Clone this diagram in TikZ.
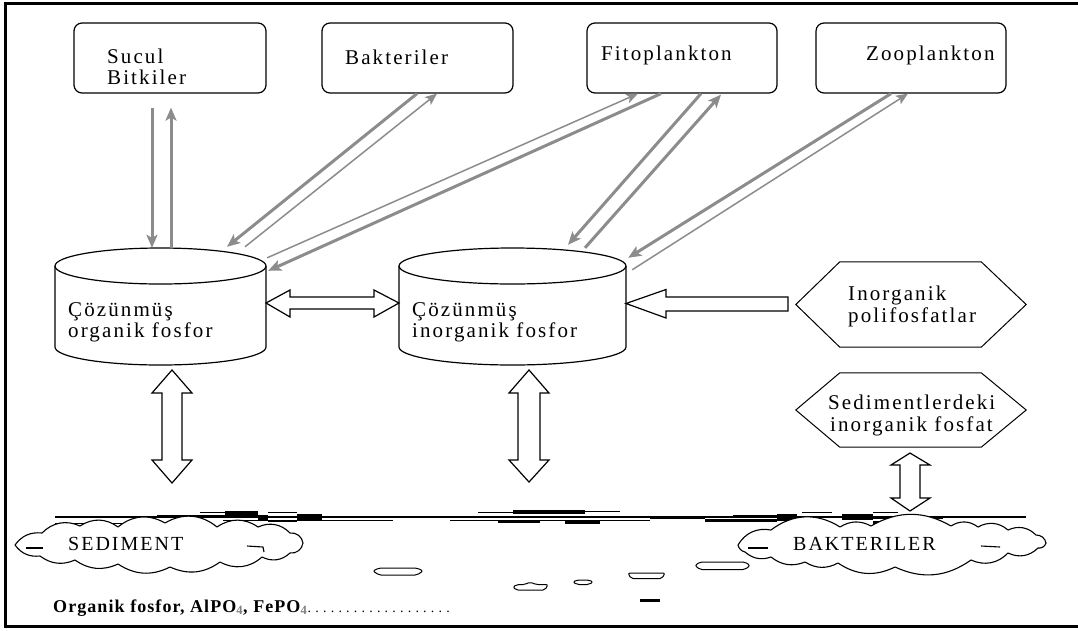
\documentclass[tikz,border=0pt]{standalone}
\usepackage{fontspec}
\setmainfont{Liberation Serif}[LetterSpace=10]
\usetikzlibrary{arrows.meta,calc}
\tikzset{
  lbl/.style={anchor=base west, inner sep=0pt, font=\fontsize{21pt}{21pt}\selectfont},
  box/.style={draw, rounded corners=8pt, line width=1.2pt, inner sep=0pt},
  hidden/.style={inner sep=0pt},
  blk/.style={draw, fill=white, line width=1.2pt, line join=miter},
  garr/.style={draw=gray!90, line width=3pt, -{Stealth[length=13pt,width=11pt,inset=3pt]}},
  tarr/.style={draw=gray!90, line width=1.5pt, -{Stealth[length=12pt,width=10pt,inset=3pt]}},
  cloudline/.style={draw, line width=1.1pt, line join=round},
  blob/.style={draw, line width=1pt, rounded corners=2pt},
}
\begin{document}
\begin{tikzpicture}[x=1pt,y=-1pt]
\useasboundingbox (0,0) rectangle (1078,630);
% frame (top, left, bottom)
\draw[line width=3pt] (1078,3.5) -- (5.5,3.5) -- (5.5,626.5) -- (1078,626.5);

% top boxes
\node[box, minimum width=192pt, minimum height=70pt] (suc) at (170,58) {};
\node[box, minimum width=191pt, minimum height=70pt] (bak) at (417.5,58) {};
\node[box, minimum width=190pt, minimum height=70pt] (fito) at (682,58) {};
\node[box, minimum width=190pt, minimum height=70pt] (zoo) at (911,58) {};
\node[lbl] (tsuc1) at (107,63) {Sucul};
\node[lbl] (tsuc2) at (107,84) {Bitkiler};
\node[lbl] (tbak) at (345,64) {Bakteriler};
\node[lbl] (tfito) at (601,60) {Fitoplankton};
\node[lbl] (tzoo) at (866,60) {Zooplankton};

% cylinders
\node[hidden, minimum width=211pt, minimum height=117pt] (cylA) at (160.5,306.5) {};
\node[hidden, minimum width=227pt, minimum height=117pt] (cylB) at (512.5,306.5) {};
\draw[line width=1.2pt] (55,266) -- (55,347) arc[start angle=180, end angle=0, x radius=105.5, y radius=18] -- (266,266);
\draw[line width=1.2pt] (160.5,266) ellipse[x radius=105.5, y radius=18];
\draw[line width=1.2pt] (399,266) -- (399,347) arc[start angle=180, end angle=0, x radius=113.5, y radius=18] -- (626,266);
\draw[line width=1.2pt] (512.5,266) ellipse[x radius=113.5, y radius=18];
\node[lbl] (tcA1) at (68,316) {Çözünmüş};
\node[lbl] (tcA2) at (68,337) {organik fosfor};
\node[lbl] (tcB1) at (412,316) {Çözünmüş};
\node[lbl] (tcB2) at (412,337) {inorganik fosfor};

% hexagons
\node[hidden, minimum width=230pt, minimum height=85pt] (hexA) at (911,304.5) {};
\node[hidden, minimum width=230pt, minimum height=74pt] (hexB) at (911,410) {};
\draw[line width=1pt] (hexA.west) -- ($(hexA.north west)+(44,0)$) -- ($(hexA.north east)+(-45,0)$) -- (hexA.east) -- ($(hexA.south east)+(-45,0)$) -- ($(hexA.south west)+(44,0)$) -- cycle;
\draw[line width=1pt] (hexB.west) -- ($(hexB.north west)+(44,0)$) -- ($(hexB.north east)+(-45,0)$) -- (hexB.east) -- ($(hexB.south east)+(-45,0)$) -- ($(hexB.south west)+(44,0)$) -- cycle;
\node[lbl] (thA1) at (848,300) {Inorganik};
\node[lbl] (thA2) at (848,322) {polifosfatlar};
\node[lbl] (thB1) at (828,409) {Sedimentlerdeki};
\node[lbl] (thB2) at (830,431) {inorganik fosfat};

% gray arrows
\draw[garr] ($(suc.south)+(-18,14)$) -- ($(cylA.north)+(-8.5,0)$);
\draw[garr] ($(cylA.north)+(10.5,0)$) -- ($(suc.south)+(1,14)$);
\draw[garr] ($(bak.south)+(-0.5,0)$) -- ($(cylA.north)+(66.5,-1)$);
\draw[tarr] ($(cylA.north)+(84.5,-1)$) -- ($(bak.south)+(19.5,0)$);
\draw[tarr] ($(cylA.north east)+(1,10)$) -- ($(fito.south)+(-44,0)$);
\draw[garr] ($(fito.south)+(-21,0)$) -- ($(cylA.north east)+(2,23)$);
\draw[garr] ($(fito.south)+(19,0)$) -- ($(cylB.north)+(55.5,-3)$);
\draw[garr] ($(cylB.north)+(72.5,0)$) -- ($(fito.south)+(39,1)$);
\draw[garr] ($(zoo.south)+(-20,0)$) -- ($(cylB.north east)+(2,10)$);
\draw[tarr] ($(cylB.north east)+(6,22)$) -- ($(zoo.south)+(-3,0)$);

% block arrows
\draw[blk] (266,303) -- (290,290) -- (290,297) -- (374,297) -- (374,290) -- (399,303) -- (374,317) -- (374,309) -- (290,309) -- (290,317) -- cycle;
\draw[blk] (626,303.5) -- (666,289.5) -- (666,297) -- (788,297) -- (788,311) -- (666,311) -- (666,318) -- cycle;
\draw[blk] (172,370) -- (192,393) -- (182,393) -- (182,460) -- (192,460) -- (172,483) -- (152,460) -- (162,460) -- (162,393) -- (152,393) -- cycle;
\draw[blk] (529,370) -- (549,393) -- (540,393) -- (540,460) -- (549,460) -- (529,482) -- (509,460) -- (518,460) -- (518,393) -- (509,393) -- cycle;
\draw[blk] (910,453) -- (930,465) -- (920,465) -- (920,498) -- (930,498) -- (910,511) -- (891,498) -- (900,498) -- (900,465) -- (891,465) -- cycle;

% sediment surface
\draw[line width=1.1pt] (55,517) -- (1026,517);
\begin{scope}[line width=1pt]
\fill (157,514.5) rectangle (225,517.5);
\fill (225,511) rectangle (258,518);
\fill (258,515) rectangle (268,521);
\draw (268,512) -- (297,512) (268,517) -- (297,517) (268,521.5) -- (297,521.5);
\fill (297,514) rectangle (322,520.5);
\draw (200,512) -- (225,512);
\draw (223,520.5) -- (393,520.5);
\draw (55,523) -- (157,523);
\draw (450,520.5) -- (498,520.5);
\fill (498,520) rectangle (540,523);
\draw (478,512) -- (513,512);
\fill (513,510) rectangle (585,513.5);
\draw (585,511.5) -- (620,511.5);
\draw (540,520.5) -- (650,520.5);
\fill (565,521) rectangle (600,523.5);
\draw (650,518.5) -- (705,518.5);
\fill (705,519) rectangle (777,522);
\fill (733,514.5) rectangle (777,517.5);
\fill (777,514) rectangle (797,521);
\draw (802,512) -- (832,512) (802,517) -- (832,517) (802,522) -- (832,522);
\fill (842,513.5) rectangle (873,520);
\draw (873,512) -- (898,512);
\fill (873,516) rectangle (943,518.5);
\fill (873,521) rectangle (898,523.5);
\end{scope}

% clouds
\draw[cloudline, fill=white] (15,545) to[bend left=30] (42,533) to[bend left=35] (80,526) to[bend left=35] (118,527)
  to[bend left=35] (165,523) to[bend left=35] (217,527) to[bend left=35] (258,527) to[bend left=35] (290,533)
  to[bend left=45] (303,543) to[bend left=45] (290,553) to[bend left=35] (262,557) to[bend left=35] (220,562)
  to[bend left=30] (170,567) to[bend left=30] (118,564) to[bend left=30] (75,560) to[bend left=30] (40,556)
  to[bend left=30] cycle;
\draw[cloudline] (247,546) -- (263,547) -- (264,552);
\draw[cloudline] (26,548) -- (43,548);
\draw[cloudline, fill=white] (738,545) to[bend left=35] (771,530) to[bend left=35] (840,527) to[bend left=30] (871,526)
  to[bend left=30] (951,526) to[bend left=35] (978,527) to[bend left=35] (1008,530) to[bend left=35] (1036,535)
  to[bend left=40] (1046,543) to[bend left=40] (1038,548) to[bend left=35] (1008,553) to[bend left=35] (971,560)
  to[bend left=30] (895,567) to[bend left=30] (838,563) to[bend left=30] (805,562) to[bend left=30] (771,557)
  to[bend left=30] (745,552) to[bend left=30] cycle;
\draw[cloudline] (981,546) -- (1000,547);
\draw[cloudline] (748,548) -- (768,548);
\node[anchor=base west, inner sep=0pt, font=\fontsize{20pt}{24pt}\selectfont] (tsed) at (68,550) {SEDIMENT};
\node[anchor=base west, inner sep=0pt, font=\fontsize{20pt}{24pt}\selectfont] (tbakt) at (793,550) {BAKTERILER};

% small particles
\draw[blob] (373,571) -- (379,568) -- (417,568) -- (423,571) -- (417,575) -- (379,575) -- cycle;
\draw[blob] (513,587) -- (517,584.5) -- (525,584.5) -- (530,582) -- (536,584.5) -- (548,584.5) -- (545,590) -- (516,590) -- cycle;
\draw[blob] (573,582) -- (577,580) -- (589,580) -- (593,582) -- (589,584.5) -- (577,584.5) -- cycle;
\draw[blob] (628,573) -- (665,573) -- (662,578.5) -- (631,578.5) -- cycle;
\draw[blob] (695,565.5) -- (700,562) -- (745,562) -- (750,565.5) -- (745,569.5) -- (700,569.5) -- cycle;
\fill (640,598.5) rectangle (660,602);

% bottom text
\node[anchor=base west, inner sep=0pt, font=\fontsize{18pt}{20pt}\selectfont\bfseries\addfontfeatures{LetterSpace=6}] (tbot) at (53,612) {Organik fosfor, AlPO{\color{gray}\textsubscript{4}}, FePO{\color{gray}\textsubscript{4}}};
\node[anchor=base west, inner sep=0pt, font=\fontsize{14pt}{16pt}\selectfont\addfontfeatures{LetterSpace=30}] (tdots) at (tbot.base east) {...................};
\end{tikzpicture}
\end{document}
